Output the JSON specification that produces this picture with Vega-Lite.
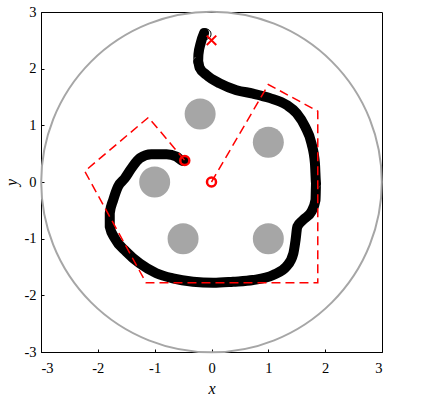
{
  "$schema": "https://vega.github.io/schema/vega-lite/v6.json",
  "width": 341,
  "height": 340,
  "autosize": {"type": "none"},
  "padding": {"left": 41, "top": 12, "right": 44, "bottom": 50},
  "background": "white",
  "config": {
    "view": {"stroke": "black", "strokeWidth": 1},
    "font": "Liberation Serif",
    "axis": {
      "grid": false,
      "domainColor": "black",
      "tickColor": "black",
      "tickSize": -3,
      "labelFont": "Liberation Serif",
      "labelFontSize": 14.5,
      "labelColor": "black",
      "titleFont": "Liberation Serif",
      "titleFontSize": 16,
      "titleFontStyle": "italic",
      "titleFontWeight": "normal",
      "titleColor": "black"
    }
  },
  "datasets": {
    "outer": [{"x": 0, "y": 0}],
    "obst": [
      {"x": -0.2, "y": 1.2},
      {"x": 1.0, "y": 0.7},
      {"x": -1.0, "y": 0.0},
      {"x": -0.5, "y": -1.0},
      {"x": 1.0, "y": -1.0}
    ],
    "traj": [
      {"i": 0, "x": -0.13, "y": 2.63},
      {"i": 1, "x": -0.19, "y": 2.45},
      {"i": 2, "x": -0.23, "y": 2.25},
      {"i": 3, "x": -0.236, "y": 2.12},
      {"i": 4, "x": -0.21, "y": 2.02},
      {"i": 5, "x": -0.09, "y": 1.89},
      {"i": 6, "x": 0.146, "y": 1.74},
      {"i": 7, "x": 0.44, "y": 1.62},
      {"i": 8, "x": 0.73, "y": 1.56},
      {"i": 9, "x": 1.03, "y": 1.48},
      {"i": 10, "x": 1.32, "y": 1.36},
      {"i": 11, "x": 1.5, "y": 1.21},
      {"i": 12, "x": 1.645, "y": 0.98},
      {"i": 13, "x": 1.76, "y": 0.68},
      {"i": 14, "x": 1.82, "y": 0.33},
      {"i": 15, "x": 1.84, "y": -0.02},
      {"i": 16, "x": 1.83, "y": -0.32},
      {"i": 17, "x": 1.76, "y": -0.52},
      {"i": 18, "x": 1.61, "y": -0.67},
      {"i": 19, "x": 1.51, "y": -0.79},
      {"i": 20, "x": 1.48, "y": -1.02},
      {"i": 21, "x": 1.44, "y": -1.26},
      {"i": 22, "x": 1.32, "y": -1.49},
      {"i": 23, "x": 1.085, "y": -1.64},
      {"i": 24, "x": 0.73, "y": -1.73},
      {"i": 25, "x": 0.38, "y": -1.76},
      {"i": 26, "x": 0.03, "y": -1.78},
      {"i": 27, "x": -0.325, "y": -1.76},
      {"i": 28, "x": -0.68, "y": -1.7},
      {"i": 29, "x": -0.97, "y": -1.61},
      {"i": 30, "x": -1.26, "y": -1.44},
      {"i": 31, "x": -1.5, "y": -1.23},
      {"i": 32, "x": -1.705, "y": -0.99},
      {"i": 33, "x": -1.79, "y": -0.79},
      {"i": 34, "x": -1.79, "y": -0.55},
      {"i": 35, "x": -1.73, "y": -0.32},
      {"i": 36, "x": -1.645, "y": -0.08},
      {"i": 37, "x": -1.53, "y": 0.06},
      {"i": 38, "x": -1.41, "y": 0.24},
      {"i": 39, "x": -1.26, "y": 0.42},
      {"i": 40, "x": -1.06, "y": 0.49},
      {"i": 41, "x": -0.79, "y": 0.49},
      {"i": 42, "x": -0.62, "y": 0.45},
      {"i": 43, "x": -0.5, "y": 0.37},
      {"i": 44, "x": -0.47, "y": 0.38}
    ],
    "ref": [
      {"i": 0, "x": 0.0, "y": 0.0},
      {"i": 1, "x": 1.0, "y": 1.72},
      {"i": 2, "x": 1.87, "y": 1.25},
      {"i": 3, "x": 1.87, "y": -1.78},
      {"i": 4, "x": -1.15, "y": -1.78},
      {"i": 5, "x": -2.23, "y": 0.19},
      {"i": 6, "x": -1.11, "y": 1.14},
      {"i": 7, "x": -0.47, "y": 0.38}
    ],
    "startpt": [{"x": -0.1, "y": 2.61}],
    "circ": [{"x": 0.0, "y": 0.0}, {"x": -0.47, "y": 0.38}],
    "goal": [{"x": 0.0, "y": 2.5}]
  },
  "encoding": {
    "x": {
      "field": "x", "type": "quantitative",
      "scale": {"domain": [-3, 3], "nice": false, "zero": false},
      "axis": {"values": [-3, -2, -1, 0, 1, 2, 3], "title": "x", "labelPadding": 12, "titlePadding": 6, "labelExpr": "'' + datum.value"}
    },
    "y": {
      "field": "y", "type": "quantitative",
      "scale": {"domain": [-3, 3], "nice": false, "zero": false},
      "axis": {"values": [-3, -2, -1, 0, 1, 2, 3], "title": "y", "labelPadding": 8, "titlePadding": 4, "labelExpr": "'' + datum.value"}
    }
  },
  "layer": [
    {
      "data": {"name": "outer"},
      "mark": {"type": "point", "shape": "circle", "filled": false, "size": 116000, "stroke": "#a6a6a6", "strokeWidth": 2, "opacity": 1}
    },
    {
      "data": {"name": "obst"},
      "mark": {"type": "point", "shape": "circle", "filled": true, "size": 961, "fill": "#a6a6a6", "opacity": 1, "strokeWidth": 0}
    },
    {
      "data": {"name": "traj"},
      "mark": {"type": "line", "color": "black", "strokeWidth": 10, "strokeCap": "round", "strokeJoin": "round", "interpolate": "monotone"},
      "encoding": {"order": {"field": "i", "type": "quantitative"}}
    },
    {
      "data": {"name": "startpt"},
      "mark": {"type": "point", "shape": "circle", "filled": false, "size": 110, "stroke": "black", "strokeWidth": 1, "opacity": 1}
    },
    {
      "data": {"name": "ref"},
      "mark": {"type": "line", "color": "#ff0000", "strokeWidth": 1.5, "strokeDash": [9, 5]},
      "encoding": {"order": {"field": "i", "type": "quantitative"}}
    },
    {
      "data": {"name": "circ"},
      "mark": {"type": "point", "shape": "circle", "filled": false, "size": 81, "stroke": "#ff0000", "strokeWidth": 2.5, "opacity": 1}
    },
    {
      "data": {"name": "goal"},
      "mark": {"type": "point", "shape": "M-1,-1L1,1M-1,1L1,-1", "filled": false, "size": 90, "stroke": "#ff0000", "strokeWidth": 2, "opacity": 1}
    }
  ]
}
